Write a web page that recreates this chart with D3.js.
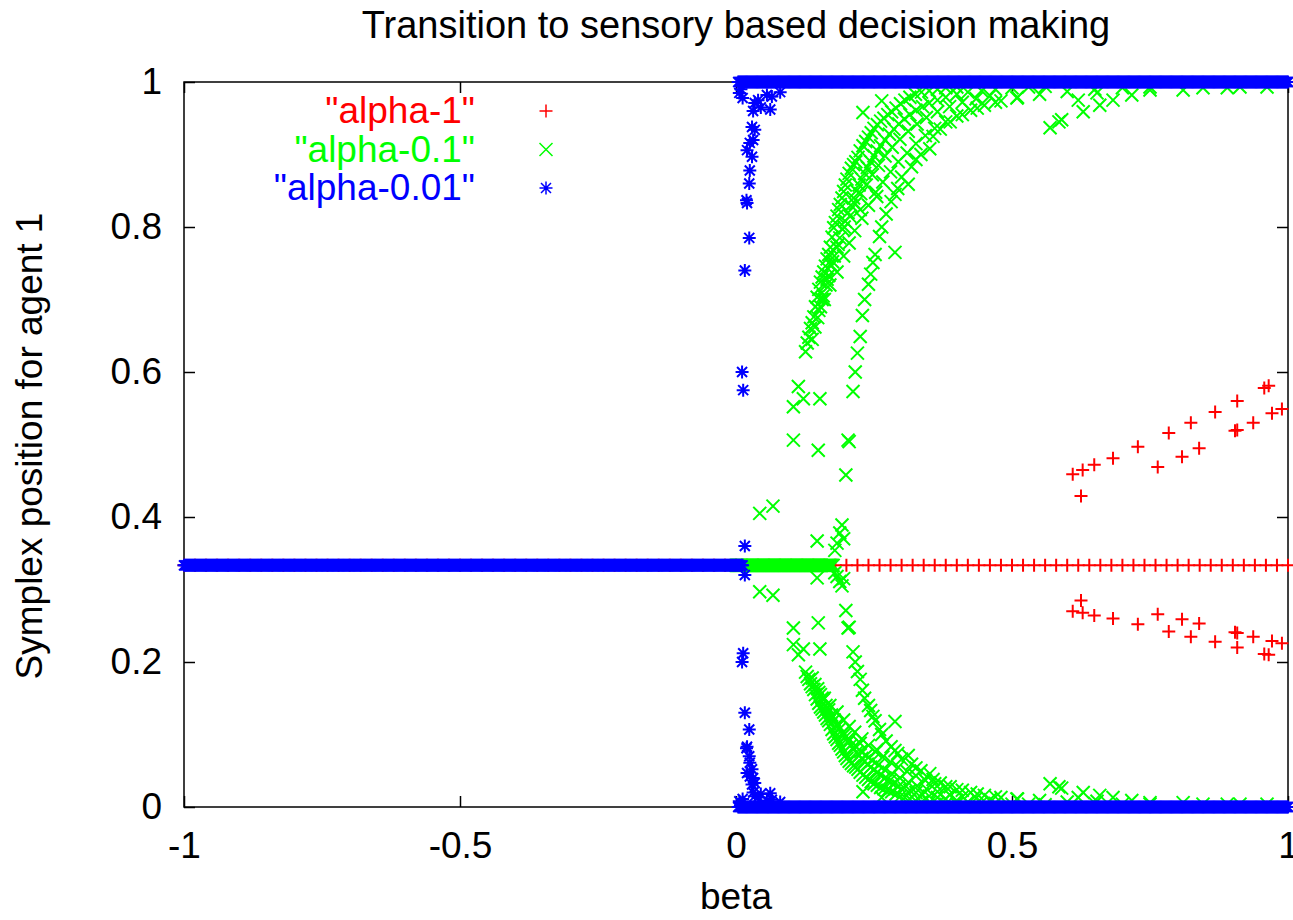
<!DOCTYPE html>
<html>
<head>
<meta charset="utf-8">
<script src="https://cdn.jsdelivr.net/npm/d3@7"></script>
<style>
  body { margin: 0; background: #fff; }
  text { font-family: "Liberation Sans", Arial, sans-serif; }
</style>
</head>
<body>
<script>
// ---- data ----
const betaTicks = [-1, -0.5, 0, 0.5, 1];
const valueTicks = [0, 0.2, 0.4, 0.6, 0.8, 1];
const seriesNames = ['"alpha-1"', '"alpha-0.1"', '"alpha-0.01"'];
const seriesColors = ["#ff0000", "#00ff00", "#0000ff"];

// flat runs where every sample sits on one value: [betaFrom, betaTo, value]
const redFlat = [[-1, 1, 0.3333]];
const greenFlat = [[0, 0.176, 0.3333]];
const blueFlat = [[-1, 0.012, 0.3333], [0.004, 1, 1], [0.004, 1, 0]];
const redStep = 0.02, fineStep = 0.002;

// split samples: [beta, winning coordinate, the two losing coordinates]
const redSplit = [
  [0.610, 0.459, 0.270], [0.625, 0.429, 0.285], [0.628, 0.465, 0.268], [0.649, 0.472, 0.264],
  [0.683, 0.481, 0.260], [0.728, 0.497, 0.252], [0.764, 0.469, 0.266], [0.784, 0.516, 0.242],
  [0.808, 0.483, 0.259], [0.824, 0.530, 0.235], [0.839, 0.495, 0.253], [0.868, 0.545, 0.228],
  [0.904, 0.519, 0.241], [0.908, 0.520, 0.240], [0.908, 0.560, 0.220], [0.937, 0.530, 0.235],
  [0.957, 0.578, 0.211], [0.965, 0.581, 0.210], [0.971, 0.543, 0.229], [0.989, 0.549, 0.226]
];

const greenSplit = [
  // early departures from the 1/3 line
  [0.043, 0.405, 0.297], [0.067, 0.415, 0.292], [0.104, 0.506, 0.247], [0.104, 0.552, 0.224],
  [0.113, 0.580, 0.210], [0.122, 0.563, 0.218], [0.149, 0.492, 0.254], [0.152, 0.563, 0.218],
  [0.147, 0.367, 0.316], [0.179, 0.354, 0.323], [0.183, 0.364, 0.318], [0.188, 0.378, 0.311],
  [0.192, 0.389, 0.305], [0.195, 0.370, 0.315],
  // main branch, left edge
  [0.126, 0.628, 0.186], [0.129, 0.640, 0.180], [0.132, 0.648, 0.176], [0.135, 0.660, 0.170],
  [0.138, 0.668, 0.166], [0.141, 0.676, 0.162], [0.144, 0.690, 0.155], [0.147, 0.703, 0.149],
  [0.150, 0.714, 0.143], [0.153, 0.724, 0.138], [0.156, 0.731, 0.135], [0.159, 0.738, 0.131],
  [0.162, 0.746, 0.127], [0.165, 0.756, 0.122], [0.168, 0.762, 0.119], [0.171, 0.772, 0.114],
  [0.174, 0.786, 0.107], [0.177, 0.799, 0.101], [0.180, 0.806, 0.097], [0.183, 0.815, 0.093],
  [0.186, 0.824, 0.088], [0.189, 0.831, 0.085], [0.192, 0.840, 0.080], [0.195, 0.849, 0.076],
  [0.198, 0.858, 0.071], [0.201, 0.866, 0.067], [0.205, 0.874, 0.063], [0.209, 0.881, 0.060],
  [0.213, 0.886, 0.057], [0.217, 0.890, 0.055], [0.221, 0.896, 0.052], [0.225, 0.905, 0.048],
  [0.230, 0.912, 0.044], [0.235, 0.918, 0.041], [0.240, 0.924, 0.038], [0.245, 0.930, 0.035],
  [0.250, 0.936, 0.032], [0.256, 0.941, 0.030], [0.262, 0.946, 0.027], [0.268, 0.950, 0.025],
  [0.275, 0.955, 0.023], [0.282, 0.959, 0.021], [0.290, 0.964, 0.018], [0.298, 0.970, 0.015],
  [0.306, 0.975, 0.013], [0.315, 0.979, 0.011], [0.325, 0.983, 0.009], [0.336, 0.986, 0.007],
  [0.350, 0.988, 0.006], [0.365, 0.990, 0.005], [0.380, 0.992, 0.004], [0.400, 0.993, 0.004],
  // main branch, middle
  [0.138, 0.645, 0.178], [0.143, 0.662, 0.169], [0.148, 0.675, 0.163], [0.153, 0.690, 0.155],
  [0.158, 0.705, 0.148], [0.163, 0.720, 0.140], [0.168, 0.733, 0.134], [0.173, 0.747, 0.127],
  [0.178, 0.760, 0.120], [0.183, 0.772, 0.114], [0.188, 0.785, 0.108], [0.193, 0.797, 0.102],
  [0.198, 0.808, 0.096], [0.203, 0.820, 0.090], [0.208, 0.830, 0.085], [0.213, 0.840, 0.080],
  [0.218, 0.850, 0.075], [0.223, 0.858, 0.071], [0.228, 0.866, 0.067], [0.233, 0.874, 0.063],
  [0.238, 0.882, 0.059], [0.244, 0.890, 0.055], [0.250, 0.898, 0.051], [0.256, 0.905, 0.048],
  [0.262, 0.912, 0.044], [0.270, 0.920, 0.040], [0.278, 0.928, 0.036], [0.286, 0.935, 0.033],
  [0.295, 0.942, 0.029], [0.305, 0.949, 0.026], [0.315, 0.955, 0.023], [0.326, 0.961, 0.020],
  [0.338, 0.966, 0.017], [0.350, 0.971, 0.015], [0.365, 0.975, 0.013], [0.380, 0.979, 0.011],
  [0.400, 0.983, 0.009], [0.420, 0.986, 0.007], [0.445, 0.988, 0.006], [0.470, 0.990, 0.005],
  [0.500, 0.992, 0.004], [0.530, 0.993, 0.004], [0.560, 0.994, 0.003],
  // main branch, inner fan
  [0.150, 0.685, 0.158], [0.156, 0.700, 0.150], [0.165, 0.728, 0.136], [0.175, 0.752, 0.124],
  [0.185, 0.776, 0.112], [0.196, 0.800, 0.100], [0.206, 0.815, 0.093], [0.216, 0.832, 0.084],
  [0.226, 0.846, 0.077], [0.236, 0.858, 0.071], [0.247, 0.872, 0.064], [0.258, 0.885, 0.058],
  [0.270, 0.898, 0.051], [0.283, 0.910, 0.045], [0.297, 0.921, 0.040], [0.312, 0.932, 0.034],
  [0.328, 0.942, 0.029], [0.345, 0.951, 0.025], [0.365, 0.959, 0.021], [0.387, 0.966, 0.017],
  [0.410, 0.972, 0.014], [0.435, 0.977, 0.012], [0.460, 0.981, 0.010],
  // main branch, right edge
  [0.160, 0.700, 0.150], [0.170, 0.720, 0.140], [0.183, 0.738, 0.131], [0.195, 0.760, 0.120],
  [0.205, 0.778, 0.111], [0.215, 0.795, 0.103], [0.228, 0.812, 0.094], [0.240, 0.830, 0.085],
  [0.253, 0.848, 0.076], [0.266, 0.862, 0.069], [0.280, 0.876, 0.062], [0.294, 0.890, 0.055],
  [0.310, 0.902, 0.049], [0.326, 0.915, 0.043], [0.343, 0.926, 0.037], [0.360, 0.936, 0.032],
  [0.380, 0.945, 0.028], [0.400, 0.953, 0.024], [0.425, 0.961, 0.020], [0.450, 0.968, 0.016],
  [0.480, 0.974, 0.013], [0.510, 0.979, 0.011], [0.550, 0.983, 0.009], [0.600, 0.987, 0.007],
  [0.650, 0.990, 0.005], [0.700, 0.992, 0.004], [0.750, 0.993, 0.004],
  // late branch
  [0.199, 0.458, 0.271], [0.203, 0.506, 0.247], [0.205, 0.504, 0.248], [0.212, 0.573, 0.214],
  [0.216, 0.600, 0.200], [0.220, 0.626, 0.187], [0.225, 0.649, 0.176], [0.229, 0.678, 0.161],
  [0.233, 0.700, 0.150], [0.240, 0.721, 0.140], [0.244, 0.735, 0.133], [0.248, 0.751, 0.125],
  [0.252, 0.762, 0.119], [0.260, 0.787, 0.107], [0.264, 0.800, 0.100], [0.272, 0.818, 0.091],
  [0.281, 0.835, 0.083], [0.288, 0.845, 0.078], [0.293, 0.853, 0.074], [0.300, 0.869, 0.066],
  [0.312, 0.859, 0.071], [0.318, 0.883, 0.059], [0.326, 0.893, 0.054], [0.335, 0.900, 0.050],
  [0.351, 0.908, 0.046], [0.357, 0.925, 0.038], [0.370, 0.935, 0.033], [0.388, 0.945, 0.028],
  [0.410, 0.955, 0.023], [0.437, 0.964, 0.018], [0.470, 0.972, 0.014], [0.509, 0.978, 0.011],
  [0.288, 0.765, 0.118], [0.255, 0.842, 0.079], [0.225, 0.824, 0.088], [0.230, 0.958, 0.021],
  [0.264, 0.974, 0.013],
  // sparse tail
  [0.569, 0.937, 0.032], [0.585, 0.945, 0.028], [0.590, 0.948, 0.026], [0.620, 0.975, 0.013],
  [0.629, 0.959, 0.020], [0.654, 0.985, 0.008], [0.659, 0.968, 0.016], [0.683, 0.975, 0.013],
  [0.717, 0.982, 0.009], [0.750, 0.989, 0.006], [0.810, 0.989, 0.006], [0.846, 0.992, 0.004],
  [0.890, 0.992, 0.004], [0.913, 0.993, 0.004], [0.962, 0.993, 0.004]
];

const blueSplit = [
  [0.011, 0.600, 0.200], [0.013, 0.575, 0.212], [0.016, 0.360, 0.320], [0.016, 0.740, 0.130],
  [0.024, 0.785, 0.107], [0.020, 0.833, 0.083], [0.019, 0.837, 0.081], [0.024, 0.860, 0.070],
  [0.025, 0.878, 0.061], [0.029, 0.897, 0.052], [0.020, 0.906, 0.047], [0.025, 0.916, 0.042],
  [0.031, 0.920, 0.040], [0.034, 0.934, 0.033], [0.029, 0.938, 0.031], [0.031, 0.960, 0.020],
  [0.034, 0.971, 0.015], [0.040, 0.975, 0.013], [0.056, 0.982, 0.009], [0.065, 0.980, 0.010],
  [0.080, 0.986, 0.007], [0.045, 0.965, 0.018], [0.062, 0.962, 0.019], [0.006, 0.985, 0.008],
  [0.012, 0.978, 0.011], [0.009, 0.990, 0.005]
];

// ---- layout ----
const width = 1293, height = 920;
const x = d3.scaleLinear().domain([-1, 1]).range([184, 1288]);
const y = d3.scaleLinear().domain([0, 1]).range([807, 82]);
const fontSize = 37;

const svg = d3.select("body").append("svg")
  .attr("width", width)
  .attr("height", height)
  .style("display", "block");

// gnuplot point types 1, 2, 3
const s = 6.5, d = 5;
const markers = [
  `M${-s},0H${s}M0,${-s}V${s}`,
  `M${-s},${-s}L${s},${s}M${-s},${s}L${s},${-s}`,
  `M${-s},0H${s}M0,${-s}V${s}M${-d},${-d}L${d},${d}M${-d},${d}L${d},${-d}`
];
const markerStroke = 2;

// border + ticks
svg.append("rect")
  .attr("x", x(-1)).attr("y", y(1))
  .attr("width", x(1) - x(-1)).attr("height", y(0) - y(1))
  .attr("fill", "none").attr("stroke", "#000").attr("stroke-width", 1.5);

function styleAxis(g) {
  g.select(".domain").remove();
  g.selectAll(".tick line").attr("stroke", "#000").attr("stroke-width", 1.5);
  g.selectAll(".tick text").attr("fill", "#000")
    .style("font-size", fontSize + "px")
    .style("font-family", '"Liberation Sans", Arial, sans-serif');
}

svg.append("g").attr("transform", `translate(0,${y(0)})`)
  .call(d3.axisBottom(x).tickValues(betaTicks).tickSize(-11).tickPadding(25).tickFormat(d => String(d)))
  .call(styleAxis);
svg.append("g").attr("transform", `translate(0,${y(1)})`)
  .call(d3.axisTop(x).tickValues(betaTicks).tickSize(-11).tickFormat(""))
  .call(styleAxis);
svg.append("g").attr("transform", `translate(${x(-1)},0)`)
  .call(d3.axisLeft(y).tickValues(valueTicks).tickSize(-11).tickPadding(22).tickFormat(d => String(d)))
  .call(styleAxis);
svg.append("g").attr("transform", `translate(${x(1)},0)`)
  .call(d3.axisRight(y).tickValues(valueTicks).tickSize(-11).tickFormat(""))
  .call(styleAxis);

// titles
svg.append("text").attr("x", 736).attr("y", 38).attr("text-anchor", "middle")
  .style("font-size", "38px").text("Transition to sensory based decision making");
svg.append("text").attr("x", 736).attr("y", 909).attr("text-anchor", "middle")
  .style("font-size", fontSize + "px").text("beta");
svg.append("text").attr("transform", "translate(42,446) rotate(-90)").attr("text-anchor", "middle")
  .style("font-size", fontSize + "px").text("Symplex position for agent 1");

// ---- points ----
function expand(runs, step) {
  const pts = [];
  runs.forEach(([a, b, v]) => {
    d3.range(a, b + step / 2, step).forEach(beta => pts.push([beta, v]));
  });
  return pts;
}
function splitPoints(rows) {
  const pts = [];
  rows.forEach(([beta, hi, lo]) => { pts.push([beta, hi]); pts.push([beta, lo]); });
  return pts;
}

const series = [
  { pts: expand(redFlat, redStep).concat(splitPoints(redSplit)) },
  { pts: expand(greenFlat, fineStep).concat(splitPoints(greenSplit)) },
  { pts: expand(blueFlat, fineStep).concat(splitPoints(blueSplit)) }
];

series.forEach((sr, i) => {
  svg.append("g")
    .attr("fill", "none")
    .attr("stroke", seriesColors[i])
    .attr("stroke-width", markerStroke)
    .selectAll("path")
    .data(sr.pts)
    .join("path")
      .attr("transform", p => `translate(${x(p[0])},${y(p[1])})`)
      .attr("d", markers[i]);
});

// ---- legend ----
const legendBase = [123, 161.5, 200];
const legend = svg.append("g");
seriesNames.forEach((name, i) => {
  legend.append("text")
    .attr("x", 475).attr("y", legendBase[i])
    .attr("text-anchor", "end")
    .attr("fill", seriesColors[i])
    .style("font-size", fontSize + "px")
    .text(name);
  legend.append("path")
    .attr("transform", `translate(546,${legendBase[i] - 12})`)
    .attr("d", markers[i])
    .attr("fill", "none")
    .attr("stroke", seriesColors[i])
    .attr("stroke-width", 1.5);
});
</script>
</body>
</html>
